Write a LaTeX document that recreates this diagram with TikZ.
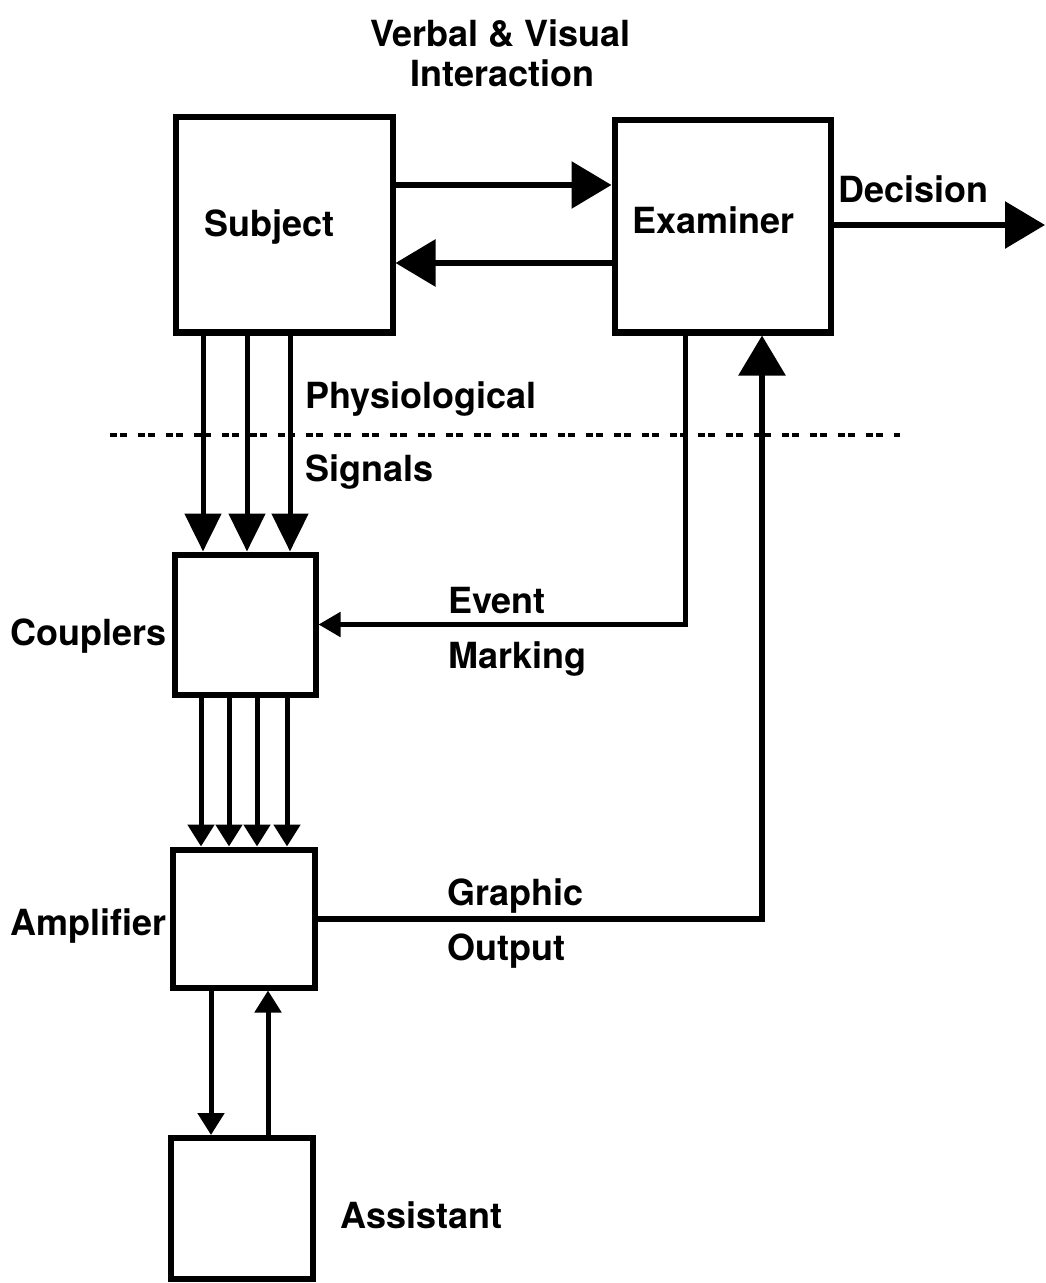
\documentclass[tikz,border=0pt]{standalone}
\usepackage{fontspec}
\setmainfont{TeX Gyre Heros}
\usetikzlibrary{arrows.meta}

\begin{document}
\begin{tikzpicture}[x=0.5pt,y=-0.5pt,
    box/.style={draw,line width=3pt,inner sep=0pt},
    lbl/.style={anchor=base west,inner sep=0pt,font=\fontsize{18}{20}\selectfont\bfseries},
    big/.style={line width=3pt,-{Triangle[length=20pt,width=23pt]}},
    sig/.style={line width=2.5pt,-{Triangle[length=19pt,width=18pt]}},
    chan/.style={line width=2.5pt,-{Triangle[length=11pt,width=13pt]}},
    evt/.style={line width=2.5pt,-{Triangle[length=11pt,width=12pt]}}]
  \useasboundingbox (0,0) rectangle (1045,1283);

% boxes
  \node[box,minimum width=108.5pt,minimum height=107.5pt] (subject)   at (284,225) {};
  \node[box,minimum width=108pt,minimum height=106pt]     (examiner)  at (722.5,226.5) {};
  \node[box,minimum width=70.5pt,minimum height=70pt]     (couplers)  at (245,624.5) {};
  \node[box,minimum width=71pt,minimum height=69pt]       (amplifier) at (243.5,918.5) {};
  \node[box,minimum width=71pt,minimum height=70.5pt]     (assistant) at (241.5,1208.5) {};

% labels
  \node[lbl] (verbal)   at (370,47)   {Verbal \& Visual};
  \node[lbl] (interact) at (410,87)   {Interaction};
  \node[lbl] (subjlbl)  at (204,237)  {Subject};
  \node[lbl] (examlbl)  at (632,234)  {Examiner};
  \node[lbl] (decision) at (838,203)  {Decision};
  \node[lbl] (physio)   at (305,408)  {Physiological};
  \node[lbl] (signals)  at (305,481)  {Signals};
  \node[lbl] (couplbl)  at (10,645)   {Couplers};
  \node[lbl] (event)    at (448,613)  {Event};
  \node[lbl] (marking)  at (448,668)  {Marking};
  \node[lbl] (ampllbl)  at (10,935)   {Amplifier};
  \node[lbl] (graphic)  at (447,905)  {Graphic};
  \node[lbl] (output)   at (447,960)  {Output};
  \node[lbl] (asstlbl)  at (340,1228) {Assistant};

% dashed separator
  \draw[line width=2pt,dash pattern=on 3.5pt off 1.5pt on 3.5pt off 5.5pt] (110,435) -- (900,435);

% interaction and decision
  \draw[big] ([yshift=20pt]subject.east) -- ([yshift=20pt]subject.east -| examiner.west);
  \draw[big] ([yshift=-19pt]subject.east -| examiner.west) -- ([yshift=-19pt]subject.east);
  \coordinate (decend) at (1045,225);
  \draw[big] (examiner.east |- decend) -- (decend);

% signals and channels
  \foreach \x in {203,247,290}
    \draw[sig] (\x,0 |- subject.south) -- (\x,0 |- couplers.north);
  \foreach \x in {201,229,257,287}
    \draw[chan] (\x,0 |- couplers.south) -- (\x,0 |- amplifier.north);

% event marking and graphic output
  \draw[evt] (685,0 |- examiner.south) |- (couplers.east);
  \draw[big] (amplifier.east) -| (762,0 |- examiner.south);

% assistant
  \draw[chan] (211,0 |- amplifier.south) -- (211,0 |- assistant.north);
  \draw[chan] (268,0 |- assistant.north) -- (268,0 |- amplifier.south);
\end{tikzpicture}
\end{document}
